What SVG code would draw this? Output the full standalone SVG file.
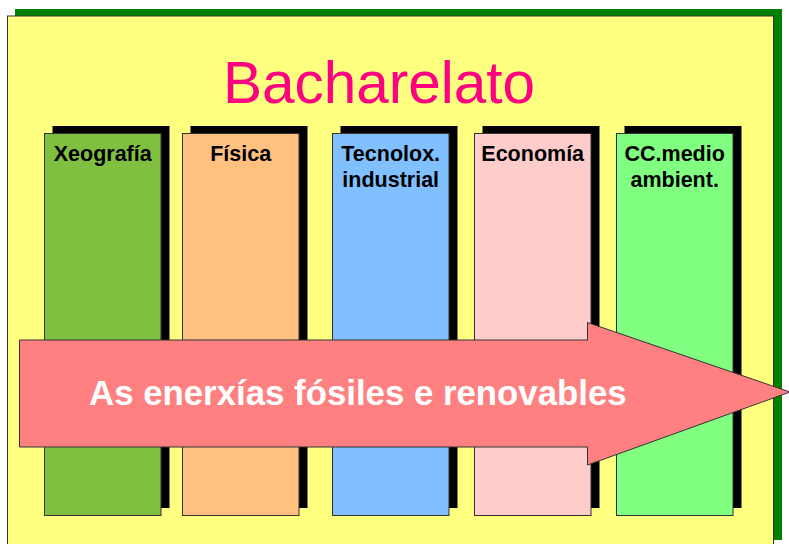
<svg xmlns="http://www.w3.org/2000/svg" width="789" height="544" viewBox="0 0 789 544">
<style>
.col{stroke:#333;stroke-width:1}
.sh{fill:#000}
.lbl{font-family:"Liberation Sans",Arial,sans-serif;font-weight:bold;font-size:21.5px;fill:#000;text-anchor:middle}
</style>
<rect width="789" height="544" fill="#fff"/>
<g id="frame">
<rect x="15" y="9" width="767" height="531" fill="#008000"/>
<rect x="7.5" y="16" width="766" height="540" fill="#FFFF80" stroke="#333" stroke-width="1"/>
</g>
<g id="title">
<text x="379" y="103" font-family="'Liberation Sans',Arial,sans-serif" font-size="58.5" fill="#FF0080" text-anchor="middle">Bacharelato</text>
</g>
<g id="xeografia">
<rect class="sh" x="52.5" y="126" width="117" height="382"/>
<rect class="col" x="44.5" y="133.5" width="116.5" height="382" fill="#80C040"/>
<text class="lbl" x="102.7" y="161">Xeografía</text>
</g>
<g id="fisica">
<rect class="sh" x="190.5" y="126" width="117" height="382"/>
<rect class="col" x="182.5" y="133.5" width="116.5" height="382" fill="#FFC080"/>
<text class="lbl" x="240.7" y="161">Física</text>
</g>
<g id="tecnolox">
<rect class="sh" x="340.5" y="126" width="117" height="382"/>
<rect class="col" x="332.5" y="133.5" width="116.5" height="382" fill="#80C0FF"/>
<text class="lbl" x="390.7" y="161">Tecnolox.</text>
<text class="lbl" x="390.7" y="187">industrial</text>
</g>
<g id="economia">
<rect class="sh" x="482.5" y="126" width="117" height="382"/>
<rect class="col" x="474.5" y="133.5" width="116.5" height="382" fill="#FFCCCC"/>
<text class="lbl" x="532.7" y="161">Economía</text>
</g>
<g id="ccmedio">
<rect class="sh" x="624.5" y="126" width="117" height="382"/>
<rect class="col" x="616.5" y="133.5" width="116.5" height="382" fill="#80FF80"/>
<text class="lbl" x="674.7" y="161">CC.medio</text>
<text class="lbl" x="674.7" y="187">ambient.</text>
</g>
<g id="connectors">
<g id="arrow">
<polygon points="19.5,340 587.5,340 587.5,322.5 790,392 587.5,465 587.5,447 19.5,447" fill="#FF8080" stroke="#333" stroke-width="1"/>
<text x="89" y="405" font-family="'Liberation Sans',Arial,sans-serif" font-weight="bold" font-size="34.8" fill="#fff">As enerxías fósiles e renovables</text>
</g>
</g>
</svg>
